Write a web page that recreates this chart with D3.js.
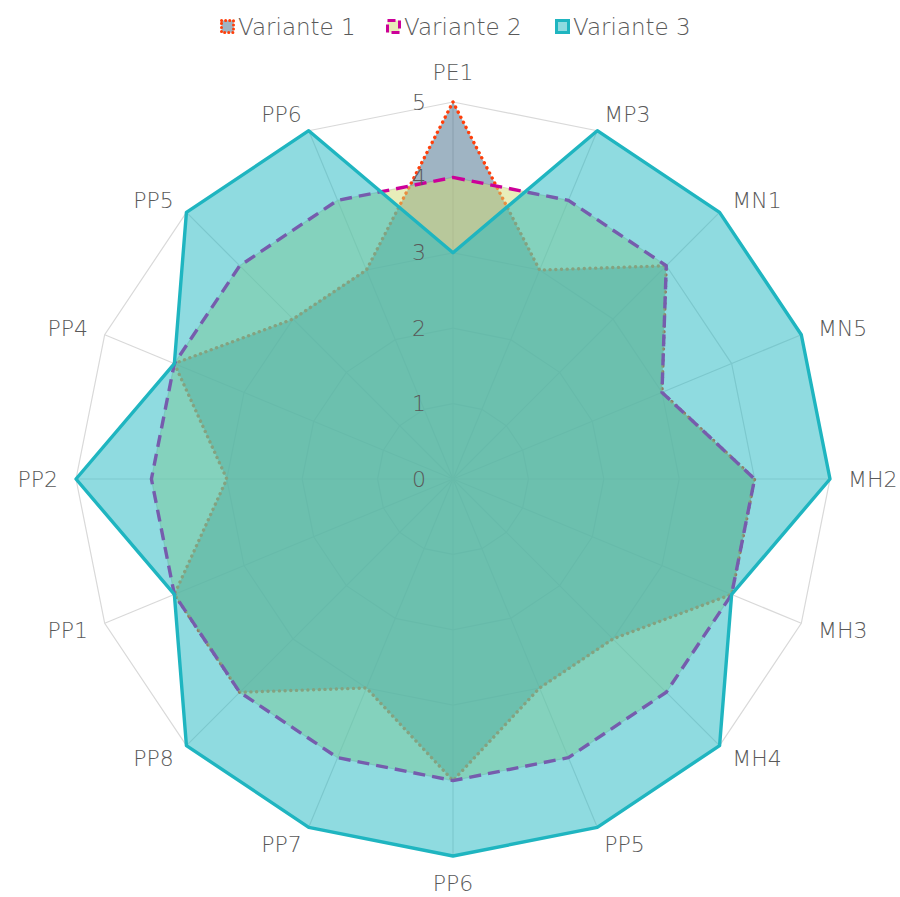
<!DOCTYPE html>
<html>
<head>
<meta charset="utf-8">
<script src="https://cdn.jsdelivr.net/npm/d3@7"></script>
<style>
  html, body { margin: 0; padding: 0; background: #ffffff; }
  svg { display: block; font-family: "DejaVu Sans", sans-serif; font-weight: 200; }
</style>
</head>
<body>
<svg id="chart" width="900" height="897"></svg>
<script>
// Axis categories, clockwise from the top
const categories = ["PE1", "MP3", "MN1", "MN5", "MH2", "MH3", "MH4", "PP5",
                    "PP6", "PP7", "PP8", "PP1", "PP2", "PP4", "PP5", "PP6"];

// Scores per variant
const variante1 = [5, 3, 4, 3, 4, 4, 3, 3, 4, 3, 4, 4, 3, 4, 3, 3];
const variante2 = [4, 4, 4, 3, 4, 4, 4, 4, 4, 4, 4, 4, 4, 4, 4, 4];
const variante3 = [3, 5, 5, 5, 5, 4, 5, 5, 5, 5, 5, 4, 5, 4, 5, 5];

const seriesNames = ["Variante 1", "Variante 2", "Variante 3"];
const tickValues = [0, 1, 2, 3, 4, 5];

const styles = [
  { fill: "#3F6987", stroke: "#FF3F0A", dash: "0.1 5.6", cap: "round", width: 3.4 },
  { fill: "#D1DB73", stroke: "#CC0099", dash: "12 7", cap: "butt", width: 3.4 },
  { fill: "#1FB7C1", stroke: "#1FB5C0", dash: null, cap: "butt", width: 3.4 }
];

const svg = d3.select("#chart");
const cx = 453, cy = 479;
const r = d3.scaleLinear().domain([0, 5]).range([0, 377]);
const angle = d3.scaleLinear().domain([0, categories.length]).range([0, 2 * Math.PI]);

const px = (i, v) => cx + r(v) * Math.sin(angle(i));
const py = (i, v) => cy - r(v) * Math.cos(angle(i));

// Grid rings and spokes
const grid = svg.append("g");
tickValues.forEach(t => {
  grid.append("polygon")
    .attr("points", categories.map((c, i) => [px(i, t), py(i, t)].join(",")).join(" "))
    .attr("fill", "none")
    .attr("stroke", "#d9d9d9")
    .attr("stroke-width", 1.2);
});
categories.forEach((c, i) => {
  grid.append("line")
    .attr("x1", cx).attr("y1", cy)
    .attr("x2", px(i, 5)).attr("y2", py(i, 5))
    .attr("stroke", "#d9d9d9")
    .attr("stroke-width", 1.2);
});

// Series areas
const radial = d3.lineRadial()
  .angle((d, i) => angle(i))
  .radius(d => r(d))
  .curve(d3.curveLinearClosed);

const allSeries = [variante1, variante2, variante3];
const plot = svg.append("g").attr("transform", `translate(${cx},${cy})`);
allSeries.forEach((vals, k) => {
  const s = styles[k];
  plot.append("path")
    .attr("d", radial(vals))
    .attr("fill", s.fill)
    .attr("fill-opacity", 0.5)
    .attr("stroke", s.stroke)
    .attr("stroke-width", s.width)
    .attr("stroke-linejoin", "round")
    .attr("stroke-linecap", s.cap)
    .attr("stroke-dasharray", s.dash);
});

// Tick labels along the vertical axis
svg.append("g").selectAll("text")
  .data(tickValues)
  .join("text")
  .attr("x", cx - 34)
  .attr("y", d => cy - r(d))
  .attr("text-anchor", "middle")
  .attr("dominant-baseline", "central")
  .attr("font-size", 22)
  .attr("fill", "#595959")
  .text(d => d);

// Category labels: anchored just outside the outer ring, growing away from the centre
const labelR = r(5) + 18;
svg.append("g").selectAll("text")
  .data(categories)
  .join("text")
  .each(function (d, i) {
    const s = Math.sin(angle(i)), c = Math.cos(angle(i));
    const t = d3.select(this)
      .attr("x", cx + labelR * s)
      .attr("y", cy - labelR * c);
    if (Math.abs(s) < 0.01) {
      t.attr("text-anchor", "middle")
       .attr("dy", c > 0 ? "-0.2em" : "0.78em");
    } else {
      t.attr("text-anchor", s > 0 ? "start" : "end")
       .attr("dy", "0.36em");
    }
  })
  .attr("font-size", 22)
  .attr("fill", "#595959")
  .text(d => d);

// Legend
const legendX = [220, 386, 555];
const legend = svg.append("g");
seriesNames.forEach((name, k) => {
  const s = styles[k];
  const g = legend.append("g").attr("transform", `translate(${legendX[k]},19)`);
  g.append("rect")
    .attr("x", 1.5).attr("y", 1.5)
    .attr("width", 12).attr("height", 12)
    .attr("fill", s.fill)
    .attr("fill-opacity", 0.5)
    .attr("stroke", s.stroke)
    .attr("stroke-width", 3)
    .attr("stroke-linecap", s.cap)
    .attr("stroke-dasharray", k === 0 ? "0.1 4" : (k === 1 ? "8 4" : null));
  g.append("text")
    .attr("x", 18)
    .attr("y", 8)
    .attr("dominant-baseline", "central")
    .attr("font-size", 23)
    .attr("fill", "#595959")
    .text(name);
});
</script>
</body>
</html>
